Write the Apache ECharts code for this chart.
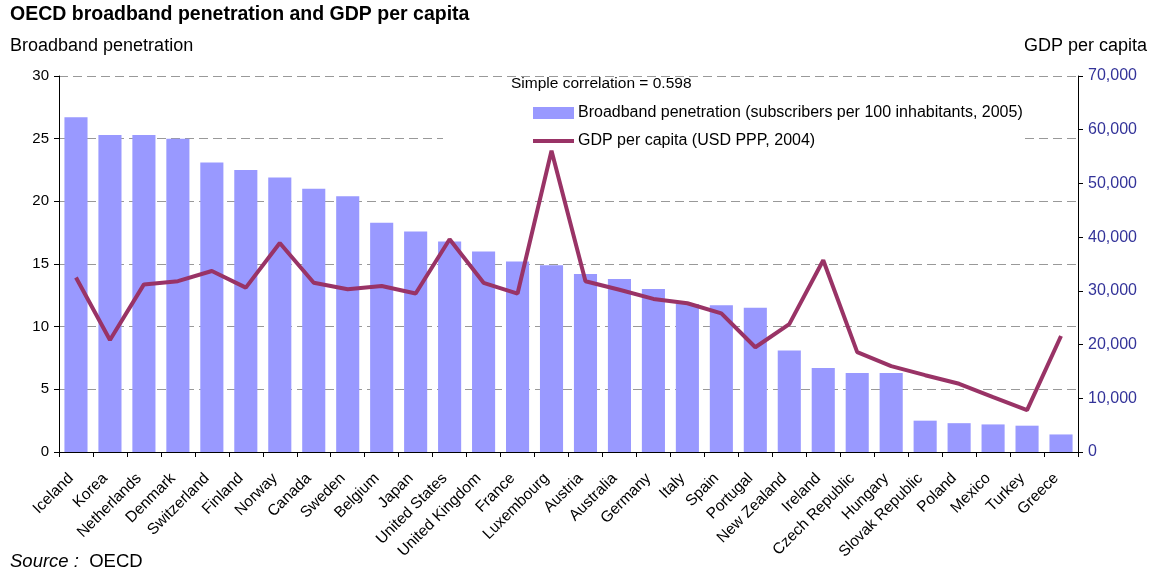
<!DOCTYPE html>
<html>
<head>
<meta charset="utf-8">
<script src="https://cdn.jsdelivr.net/npm/echarts@6/dist/echarts.min.js"></script>
<style>html,body{margin:0;padding:0;background:#fff}#c{width:1151px;height:571px}</style>
</head>
<body>
<div id="c"></div>
<script>
var countries = ['Iceland','Korea','Netherlands','Denmark','Switzerland','Finland','Norway','Canada','Sweden','Belgium','Japan','United States','United Kingdom','France','Luxembourg','Austria','Australia','Germany','Italy','Spain','Portugal','New Zealand','Ireland','Czech Republic','Hungary','Slovak Republic','Poland','Mexico','Turkey','Greece'];
var broadband = [26.7,25.3,25.3,25.0,23.1,22.5,21.9,21.0,20.4,18.3,17.6,16.8,16.0,15.2,14.9,14.2,13.8,13.0,11.8,11.7,11.5,8.1,6.7,6.3,6.3,2.5,2.3,2.2,2.1,1.4];
var gdp = [32500,20850,31200,31800,33700,30600,38900,31500,30300,30900,29500,39600,31500,29500,56100,31800,30200,28500,27700,25800,19500,23800,35700,18600,16000,14300,12700,10200,7800,21600];
var barName = 'Broadband penetration (subscribers per 100 inhabitants, 2005)';
var lineName = 'GDP per capita (USD PPP, 2004)';
var FONT = 'Liberation Sans, Arial, sans-serif';

var chart = echarts.init(document.getElementById('c'));
chart.setOption({
  animation: false,
  backgroundColor: '#fff',
  textStyle: { fontFamily: FONT },
  title: [
    { text: 'OECD broadband penetration and GDP per capita', left: 10, top: 5, padding: 0,
      textStyle: { fontFamily: FONT, fontSize: 19.5, fontWeight: 'bold', color: '#000' } },
    { text: 'Broadband penetration', left: 10, top: 37, padding: 0,
      textStyle: { fontFamily: FONT, fontSize: 18, fontWeight: 'normal', color: '#000' } },
    { text: 'GDP per capita', right: 4, top: 37, padding: 0,
      textStyle: { fontFamily: FONT, fontSize: 18, fontWeight: 'normal', color: '#000' } }
  ],
  graphic: [
    { type: 'rect', z: 1, shape: { x: 443, y: 96, width: 577, height: 50 }, style: { fill: '#fff' } },
    { type: 'text', z: 10, left: 511, top: 76, style: { text: 'Simple correlation = 0.598', font: '15.5px ' + FONT, fill: '#000' } },
    { type: 'text', z: 10, left: 10, top: 552, style: {
        text: '{i|Source :}{n|  OECD}',
        rich: { i: { fontFamily: FONT, fontSize: 18.5, fontStyle: 'italic', fill: '#000' },
                n: { fontFamily: FONT, fontSize: 18.5, fill: '#000' } } } }
  ],
  legend: {
    orient: 'vertical', left: 531, top: 105, padding: 0, itemGap: 12,
    itemWidth: 41, itemHeight: 12, z: 10,
    textStyle: { fontFamily: FONT, fontSize: 16, color: '#000', padding: [0,0,0,-1] },
    data: [{ name: barName, icon: 'rect' },
           { name: lineName, itemStyle: { opacity: 0 }, lineStyle: { width: 4, color: '#993366' } }]
  },
  grid: { left: 59, right: 73, top: 76, bottom: 119, containLabel: false },
  xAxis: {
    type: 'category', data: countries, boundaryGap: true,
    axisLine: { lineStyle: { color: '#000', width: 1 } },
    axisTick: { show: true, interval: 0, length: 5, lineStyle: { color: '#000' } },
    axisLabel: { interval: 0, rotate: 45, margin: 19, padding: [0, 7, 0, 0], fontFamily: FONT, fontSize: 15.5, color: '#000' }
  },
  yAxis: [
    { type: 'value', min: 0, max: 30, interval: 5, position: 'left',
      axisLine: { show: true, lineStyle: { color: '#000' } },
      axisTick: { show: true, length: 5, lineStyle: { color: '#000' } },
      axisLabel: { margin: 10, fontFamily: FONT, fontSize: 15, color: '#000' },
      splitLine: { show: true, lineStyle: { color: '#999', type: [9, 5], width: 1 } } },
    { type: 'value', min: 0, max: 70000, interval: 10000, position: 'right',
      axisLine: { show: true, lineStyle: { color: '#000' } },
      axisTick: { show: true, length: 5, lineStyle: { color: '#000' } },
      axisLabel: { margin: 10, fontFamily: FONT, fontSize: 16, color: '#333399',
        formatter: function (v) { return v.toLocaleString('en-US'); } },
      splitLine: { show: false } }
  ],
  series: [
    { name: barName, type: 'bar', data: broadband, yAxisIndex: 0, barCategoryGap: '32%',
      itemStyle: { color: '#9999FF' }, z: 2 },
    { name: lineName, type: 'line', data: gdp, yAxisIndex: 1, symbol: 'none', showSymbol: false,
      lineStyle: { color: '#993366', width: 4 }, itemStyle: { color: '#993366' }, z: 3 }
  ]
});
</script>
</body>
</html>
